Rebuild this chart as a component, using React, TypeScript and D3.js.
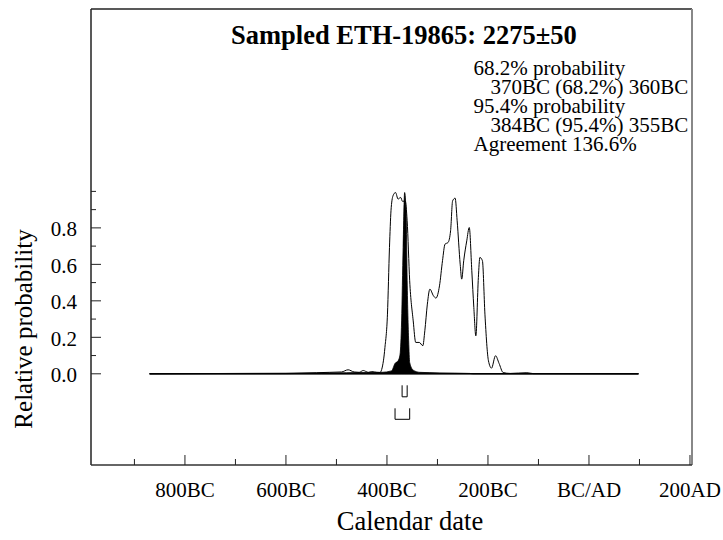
import * as React from 'react';
import * as d3 from 'd3';

// calendar years (BC negative) and relative probability
const likeYears = [-870, -700, -600, -540, -513, -490, -477, -465, -455, -447, -437, -430, -420, -414, -407, -404, -399, -395, -392, -388, -383, -378, -373, -369, -364, -360, -355, -348, -343, -336, -329, -325, -320, -315, -308, -303, -296, -290, -285, -279, -274, -270, -265, -261, -255, -252, -248, -242, -237, -232, -228, -224, -219, -216, -211, -206, -199, -193, -185, -178, -170, -156, -123, -110, 98];
const likeProb = [0, 0.002, 0.003, 0.006, 0.008, 0.01, 0.022, 0.01, 0.008, 0.018, 0.008, 0.012, 0.008, 0.007, 0.071, 0.144, 0.327, 0.693, 0.894, 0.976, 0.994, 0.958, 0.967, 0.945, 0.948, 0.839, 0.51, 0.29, 0.172, 0.172, 0.154, 0.236, 0.382, 0.464, 0.428, 0.415, 0.482, 0.62, 0.711, 0.72, 0.784, 0.948, 0.963, 0.839, 0.601, 0.519, 0.62, 0.729, 0.802, 0.565, 0.364, 0.208, 0.528, 0.638, 0.62, 0.327, 0.071, 0.031, 0.099, 0.057, 0.007, 0.002, 0.006, 0.001, 0];

const postYears = [-870, -600, -530, -480, -440, -410, -391, -384, -378, -374, -371, -368, -365, -362, -360, -357, -355, -348, -335, -295, -236, -230, 98];
const postProb = [0, 0.001, 0.004, 0.006, 0.007, 0.008, 0.016, 0.057, 0.071, 0.108, 0.29, 0.693, 0.994, 0.876, 0.51, 0.181, 0.062, 0.02, 0.008, 0.005, 0.002, 0, 0];

const range68 = [[-370, -360]];
const range95 = [[-384, -355]];

const xMajor = [-800, -600, -400, -200, 0, 200];
const xLabels = ['800BC', '600BC', '400BC', '200BC', 'BC/AD', '200AD'];
const xMinor = [-900, -700, -500, -300, -100, 100];
const yMajor = [0, 0.2, 0.4, 0.6, 0.8];
const yLabels = ['0.0', '0.2', '0.4', '0.6', '0.8'];
const yMinor = [0.1, 0.3, 0.5, 0.7, 0.9, 1.0];

const title = 'Sampled ETH-19865: 2275\u00b150';
const resultLines = [
  { text: '68.2% probability', indent: false },
  { text: '370BC (68.2%) 360BC', indent: true },
  { text: '95.4% probability', indent: false },
  { text: '384BC (95.4%) 355BC', indent: true },
  { text: 'Agreement 136.6%', indent: false },
];

const W = 723;
const H = 540;
const left = 91;
const right = 692;
const top = 9;
const bottom = 465;
const font = "'Liberation Serif', 'DejaVu Serif', serif";

const x = d3.scaleLinear().domain([-986, 204]).range([left, right]);
const y = d3.scaleLinear().domain([-0.5, 2.0]).range([bottom, top]);

export default function App() {
  const area = d3
    .area<number[]>()
    .x((d) => x(d[0]))
    .y0(y(0))
    .y1((d) => y(d[1]))
    .curve(d3.curveMonotoneX);
  const line = d3
    .line<number[]>()
    .x((d) => x(d[0]))
    .y((d) => y(d[1]))
    .curve(d3.curveMonotoneX);

  const like = likeYears.map((yr, i) => [yr, likeProb[i]]);
  const post = postYears.map((yr, i) => [yr, postProb[i]]);
  const y0 = y(0);

  const bracket = (r: number[], t: number, b: number) =>
    `M${x(r[0])},${y0 + t}V${y0 + b}H${x(r[1])}V${y0 + t}`;

  const txt = { fontFamily: font };

  return (
    <svg
      width={W}
      height={H}
      style={{ position: 'absolute', left: 0, top: 0, background: '#fff', fontFamily: font }}
    >
      {/* frame */}
      <line x1={left} x2={right} y1={top} y2={top} stroke="#222" strokeWidth={1.5} />
      <line x1={right} x2={right} y1={top} y2={bottom} stroke="#888" strokeWidth={2} />
      <line x1={left} x2={left} y1={top} y2={bottom} stroke="#222" strokeWidth={1.5} />
      <line x1={left} x2={right} y1={bottom} y2={bottom} stroke="#333" strokeWidth={1.5} />

      {/* x ticks */}
      {xMajor.map((v, i) => (
        <g key={'xm' + v}>
          <line x1={x(v)} x2={x(v)} y1={bottom} y2={bottom - 10} stroke="#222" />
          <text x={x(v)} y={497} fontSize={21} textAnchor="middle" style={txt}>
            {xLabels[i]}
          </text>
        </g>
      ))}
      {xMinor.map((v) => (
        <line key={'xn' + v} x1={x(v)} x2={x(v)} y1={bottom} y2={bottom - 6} stroke="#222" />
      ))}

      {/* y ticks */}
      {yMajor.map((v, i) => (
        <g key={'ym' + v}>
          <line x1={left} x2={left + 10} y1={y(v)} y2={y(v)} stroke="#222" />
          <text x={77} y={y(v) + 8.5} fontSize={21} textAnchor="end" style={txt}>
            {yLabels[i]}
          </text>
        </g>
      ))}
      {yMinor.map((v) => (
        <line key={'yn' + v} x1={left} x2={left + 5} y1={y(v)} y2={y(v)} stroke="#222" />
      ))}

      {/* curves */}
      <path d={line(like) || ''} fill="none" stroke="#000" strokeWidth={1} />
      <path d={area(post) || ''} fill="#000" stroke="#000" strokeWidth={0.8} />
      <line x1={x(-870)} x2={x(98)} y1={y0} y2={y0} stroke="#000" strokeWidth={1.5} />

      {/* ranges */}
      {range68.map((r, i) => (
        <path key={'r68' + i} d={bracket(r, 11.5, 23)} fill="none" stroke="#000" strokeWidth={1} />
      ))}
      {range95.map((r, i) => (
        <path key={'r95' + i} d={bracket(r, 34.5, 45.5)} fill="none" stroke="#000" strokeWidth={1} />
      ))}

      {/* labels */}
      <text x={231} y={43.5} fontSize={26.5} fontWeight="bold" style={txt}>
        {title}
      </text>
      {resultLines.map((l, i) => (
        <text key={i} x={l.indent ? 490.5 : 473.5} y={75 + i * 19} fontSize={21} style={txt}>
          {l.text}
        </text>
      ))}
      <text x={410} y={530} fontSize={26.5} textAnchor="middle" style={txt}>
        Calendar date
      </text>
      <text transform={`translate(32,329) rotate(-90)`} fontSize={25} textAnchor="middle" style={txt}>
        Relative probability
      </text>
    </svg>
  );
}
